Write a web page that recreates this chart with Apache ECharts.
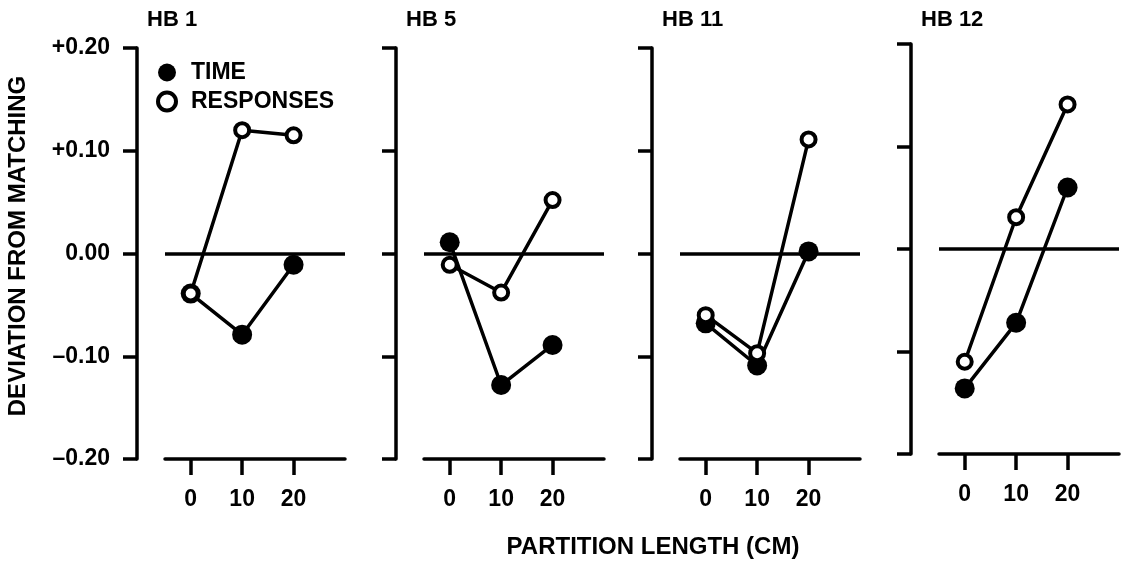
<!DOCTYPE html>
<html>
<head>
<meta charset="utf-8">
<title>Deviation from matching</title>
<script src="https://cdn.jsdelivr.net/npm/echarts@6/dist/echarts.min.js"></script>
<style>
    html, body { margin: 0; padding: 0; background: #fff; }
    #chart { width: 1130px; height: 563px; }
</style>
</head>
<body>
<div id="chart"></div>
<script>
// partition length (cm) on the x axis
var partition = [0, 10, 20];
var subjects = ['HB 1', 'HB 5', 'HB 11', 'HB 12'];

// deviation from matching, one array per subject
var hb1Time = [-0.039, -0.079, -0.011];
var hb1Resp = [-0.039, 0.120, 0.115];
var hb5Time = [0.011, -0.128, -0.089];
var hb5Resp = [-0.011, -0.038, 0.052];
var hb11Time = [-0.068, -0.109, 0.002];
var hb11Resp = [-0.060, -0.097, 0.111];
var hb12Time = [-0.136, -0.072, 0.060];
var hb12Resp = [-0.110, 0.031, 0.141];

var timeData = [hb1Time, hb5Time, hb11Time, hb12Time];
var respData = [hb1Resp, hb5Resp, hb11Resp, hb12Resp];

var FONT = '"Liberation Sans", Arial, sans-serif';
var INK = '#000';

// panel boxes: left edge of x axis line, top, height
var panels = [
    { left: 165, top: 48, height: 411 },
    { left: 424, top: 48, height: 411 },
    { left: 680, top: 48, height: 411 },
    { left: 939, top: 44, height: 410 }
];

function pairs(ys) {
    return ys.map(function (y, i) { return [partition[i], y]; });
}

function yLabel(v) {
    if (Math.abs(v) < 1e-9) return '0.00';
    return (v > 0 ? '+' : '\u2013') + Math.abs(v).toFixed(2);
}

var chart = echarts.init(document.getElementById('chart'));

var grids = [], xAxes = [], yAxes = [], series = [], titles = [];

panels.forEach(function (p, i) {
    grids.push({
        left: p.left, top: p.top, width: 180, height: p.height,
        outerBoundsMode: 'none'
    });
    xAxes.push({
        gridIndex: i,
        type: 'value',
        min: -5,
        max: 30,
        axisLine: { show: true, onZero: false, lineStyle: { color: INK, width: 3.5 } },
        axisTick: { show: true, customValues: partition, length: 16, lineStyle: { color: INK, width: 3.5 } },
        axisLabel: {
            customValues: partition, margin: 29, fontSize: 23, fontWeight: 'bold',
            color: INK, fontFamily: FONT
        },
        splitLine: { show: false }
    });
    yAxes.push({
        gridIndex: i,
        type: 'value',
        min: -0.2,
        max: 0.2,
        interval: 0.1,
        offset: 28,
        position: 'left',
        axisLine: { show: true, onZero: false, lineStyle: { color: INK, width: 3.5 } },
        axisTick: { show: true, length: 14, lineStyle: { color: INK, width: 3.5 } },
        axisLabel: {
            show: i === 0, margin: 27, fontSize: 23, fontWeight: 'bold',
            color: INK, fontFamily: FONT,
            formatter: yLabel
        },
        splitLine: { show: false }
    });
    titles.push({
        text: subjects[i],
        left: p.left - 18,
        top: 9,
        padding: 0,
        textStyle: { fontSize: 22, fontWeight: 'bold', color: INK, fontFamily: FONT }
    });
    series.push({
        name: 'TIME',
        type: 'line',
        xAxisIndex: i,
        yAxisIndex: i,
        data: pairs(timeData[i]),
        symbol: 'circle',
        symbolSize: 20,
        itemStyle: { color: INK },
        lineStyle: { color: INK, width: 3.5 },
        z: 3,
        markLine: {
            silent: true,
            symbol: 'none',
            label: { show: false },
            lineStyle: { color: INK, width: 3.5, type: 'solid' },
            data: [{ yAxis: 0 }]
        }
    });
    series.push({
        name: 'RESPONSES',
        type: 'line',
        xAxisIndex: i,
        yAxisIndex: i,
        data: pairs(respData[i]),
        symbol: 'circle',
        symbolSize: 14,
        itemStyle: { color: '#fff', borderColor: INK, borderWidth: 4 },
        lineStyle: { color: INK, width: 3.5 },
        z: 4
    });
});

var option = {
    backgroundColor: '#fff',
    animation: false,
    title: titles,
    legend: {
        orient: 'vertical',
        left: 156,
        top: 61,
        padding: 0,
        itemGap: 6,
        itemWidth: 18,
        itemHeight: 18,
        icon: 'circle',
        selectedMode: false,
        data: [
            { name: 'TIME' },
            { name: 'RESPONSES', itemStyle: { color: '#fff', borderColor: INK, borderWidth: 4 } }
        ],
        textStyle: {
            fontSize: 23, fontWeight: 'bold', color: INK, fontFamily: FONT,
            padding: [0, 0, 0, 10]
        }
    },
    grid: grids,
    xAxis: xAxes,
    yAxis: yAxes,
    graphic: [
        {
            type: 'text',
            x: 18, y: 246,
            rotation: Math.PI / 2,
            style: {
                text: 'DEVIATION FROM MATCHING',
                fontSize: 24, fontWeight: 'bold', fontFamily: FONT, fill: INK,
                align: 'center', verticalAlign: 'middle'
            }
        },
        {
            type: 'text',
            x: 653, y: 547,
            style: {
                text: 'PARTITION LENGTH (CM)',
                fontSize: 24, fontWeight: 'bold', fontFamily: FONT, fill: INK,
                align: 'center', verticalAlign: 'middle'
            }
        }
    ],
    series: series
};

chart.setOption(option);
</script>
</body>
</html>
